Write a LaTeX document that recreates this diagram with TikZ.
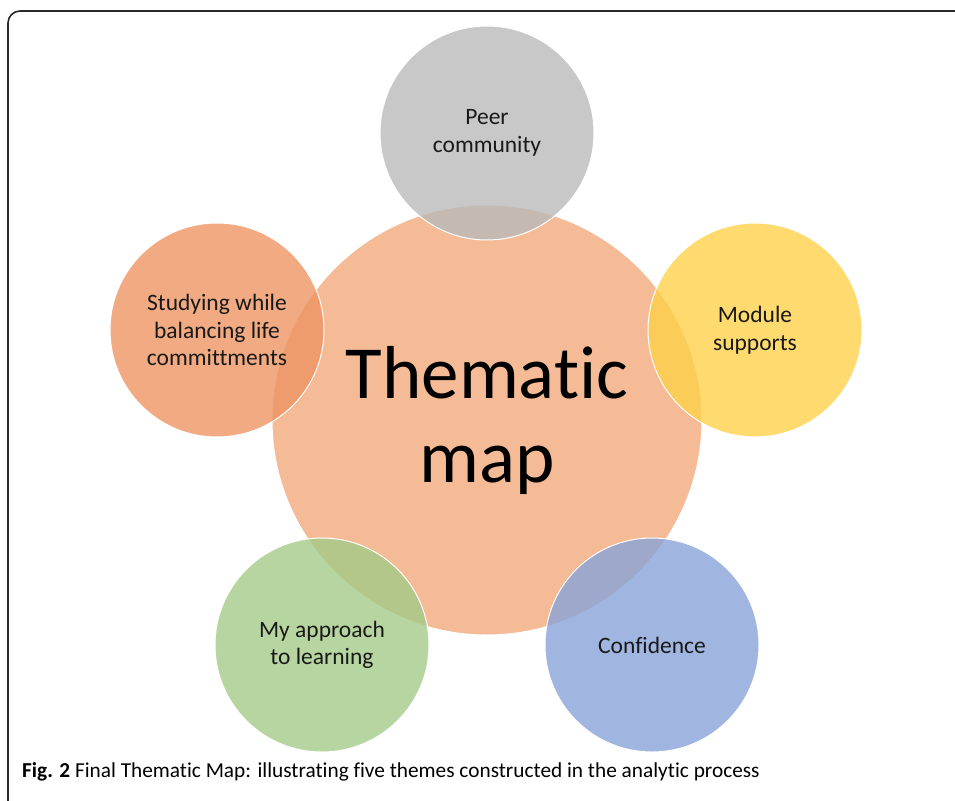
\documentclass[tikz,border=0pt]{standalone}
\usepackage{fontspec}
\setmainfont{Carlito}[Ligatures=NoCommon]
\usepackage{xcolor}
\usetikzlibrary{positioning}
\definecolor{CoreOrange}{RGB}{242,169,124}
\definecolor{PeerGray}{RGB}{186,186,186}
\definecolor{ModuleYellow}{RGB}{255,209,74}
\definecolor{LifeOrange}{RGB}{237,149,99}
\definecolor{ApproachGreen}{RGB}{165,203,136}
\definecolor{ConfBlue}{RGB}{136,164,217}
\definecolor{TextDark}{RGB}{25,25,25}
\definecolor{FrameGray}{RGB}{40,40,40}

\begin{document}
\begin{tikzpicture}[
  x=1pt, y=-1pt,
  theme/.style={circle, draw=white, line width=1pt, fill opacity=0.8,
                text opacity=1, text=TextDark, align=center,
                minimum size=214pt, inner sep=0pt,
                font=\fontsize{23.5}{27.5}\selectfont},
  core/.style={theme, fill=CoreOrange, minimum size=430pt, text=black,
               font=\fontsize{75}{84}\selectfont},
]
\useasboundingbox (0,0) rectangle (955,800);

% frame
\draw[FrameGray, line width=1.6pt, rounded corners=12pt]
  (8,820) -- (8,11) -- (975,11);

% central theme
\node[core] (map) at (487,420) {Thematic\\map};

% five themes round it
\node[theme, fill=PeerGray]      (peer)     at (487,133) {Peer\\community};
\node[theme, fill=ModuleYellow]  (module)   at (755,330) {Module\\supports};
\node[theme, fill=ConfBlue]      (conf)     at (652,645) {Confidence};
\node[theme, fill=ApproachGreen] (approach) at (322,645) {My approach\\to learning};
\node[theme, fill=LifeOrange]    (life)     at (217,330)
  {Studying while\\balancing life\\committments};

% caption
\node[anchor=base west, inner sep=0pt, text=black,
      font=\fontsize{21.3}{24}\selectfont] (caption) at (22,777)
  {\textbf{Fig. 2} Final Thematic Map: illustrating five themes constructed in the analytic process};

\end{tikzpicture}
\end{document}
